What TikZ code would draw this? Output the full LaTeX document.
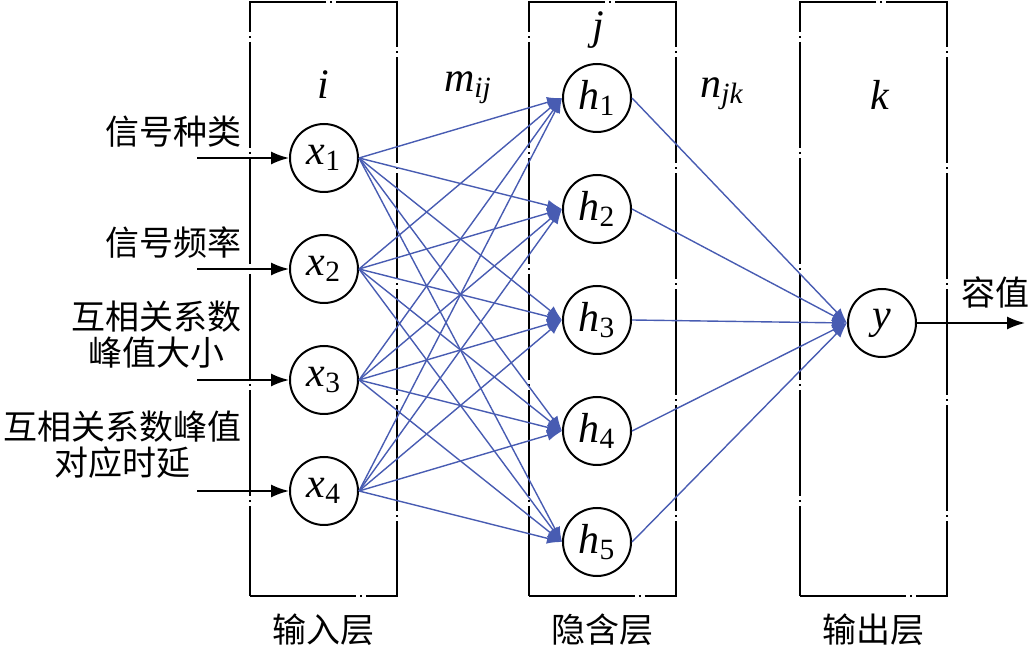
\documentclass[tikz,border=0pt]{standalone}
\usepackage{fontspec}
\setmainfont{Liberation Serif}
\newfontfamily\cjk{Noto Sans CJK SC}
\usetikzlibrary{arrows.meta,positioning}
\definecolor{EdgeBlue}{RGB}{72,92,178}
\newcommand{\vr}[2]{\textit{#1}\textsubscript{#2}}

\begin{document}
\begin{tikzpicture}[
          x=0.5pt,y=-0.5pt,
          node distance=20.5pt,
          nd/.style={draw,circle,line width=1pt,minimum size=34pt,inner sep=0pt,
                     font=\fontsize{21}{24}\selectfont},
          layer/.style={draw,line width=1pt,dash pattern=on 53pt off 2pt on 1pt off 2pt,
                        minimum width=73.5pt,minimum height=297pt,inner sep=0pt},
          cn/.style={font=\cjk\fontsize{17}{18}\selectfont,align=center,inner sep=0pt},
          lb/.style={font=\fontsize{21}{24}\selectfont\itshape,inner sep=0pt},
          ar/.style={-{Latex[length=7.5pt,width=5.5pt]},EdgeBlue,line width=0.7pt},
          inar/.style={-{Latex[length=9pt,width=6.5pt]},line width=0.9pt}
        ]
          \useasboundingbox (0,0) rectangle (1030,652);

          % layer frames
          \node(inbox)[layer] at (323.5,299){};
          \node(hidbox)[layer] at (602,299){};
          \node(outbox)[layer] at (873.5,299){};
          \node(tin)[cn,below=8pt of inbox]{输入层};
          \node(thid)[cn,below=8pt of hidbox]{隐含层};
          \node(tout)[cn,below=8pt of outbox]{输出层};

          % neurons
          \node(x1)[nd] at (324,158){\vr{x}{1}};
          \node(x2)[nd,below=of x1]{\vr{x}{2}};
          \node(x3)[nd,below=of x2]{\vr{x}{3}};
          \node(x4)[nd,below=of x3]{\vr{x}{4}};
          \node(h1)[nd] at (597,98){\vr{h}{1}};
          \node(h2)[nd,below=of h1]{\vr{h}{2}};
          \node(h3)[nd,below=of h2]{\vr{h}{3}};
          \node(h4)[nd,below=of h3]{\vr{h}{4}};
          \node(h5)[nd,below=of h4]{\vr{h}{5}};
          \node(y)[nd] at (882,323){\textit{y}};

          % index labels
          \node(li)[lb] at (323,85){i};
          \node(lj)[lb] at (598,30){j};
          \node(lk)[lb] at (880,95){k};
          \node(lm)[lb] at (468,88){m\textsubscript{ij}};
          \node(ln)[lb] at (722,94){n\textsubscript{jk}};

          % inputs
          \node(t1)[cn,anchor=east] at (242,132){信号种类};
          \node(t2)[cn,anchor=east] at (242,243){信号频率};
          \node(t3)[cn,anchor=east] at (242,335){互相关系数\\峰值大小};
          \node(t4)[cn,anchor=east] at (242,445){互相关系数峰值\\对应时延};
          \coordinate[left=46pt of x1](s1);
          \coordinate[left=46pt of x2](s2);
          \coordinate[left=46pt of x3](s3);
          \coordinate[left=46pt of x4](s4);
          \draw[inar] (s1) -- (x1);
          \draw[inar] (s2) -- (x2);
          \draw[inar] (s3) -- (x3);
          \draw[inar] (s4) -- (x4);

          % output
          \coordinate(o) at (1025,323);
          \node(tcap)[cn] at (995,292){容值};
          \draw[inar] (y) -- (o);

          % weights
          \foreach \i in {1,...,4}
            \foreach \j in {1,...,5}
              \draw[ar] (x\i.east) -- (h\j.west);
          \foreach \j in {1,...,5}
            \draw[ar] (h\j.east) -- (y.west);
        \end{tikzpicture}
\end{document}
